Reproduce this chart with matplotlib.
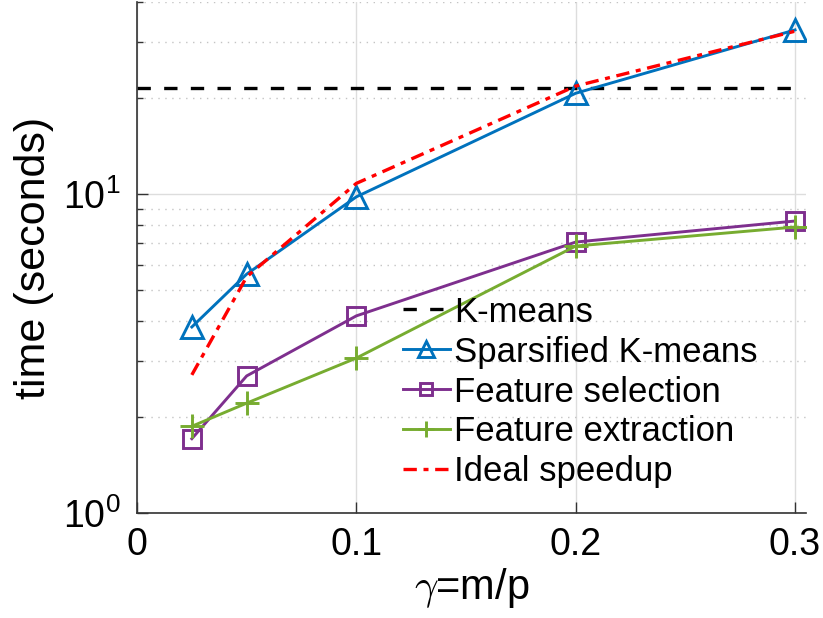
import numpy as np
import matplotlib
matplotlib.use("Agg")
import matplotlib.pyplot as plt
from matplotlib.ticker import NullFormatter, LogLocator, FixedLocator

# values
gamma = [0.025, 0.05, 0.1, 0.2, 0.3]
kmeans_x = [0, 0.3]
kmeans_t = [21.5, 21.5]
sparsified = [3.83, 5.61, 9.8, 20.7, 32.7]
selection = [1.71, 2.69, 4.15, 7.07, 8.23]
extraction = [1.87, 2.21, 3.06, 6.87, 7.88]
ideal = [2.71, 5.5, 10.8, 21.8, 32.4]
xticks = [0, 0.1, 0.2, 0.3]
xticklabels = ["0", "0.1", "0.2", "0.3"]

plt.rcParams["font.family"] = ["Liberation Sans", "DejaVu Sans"]
plt.rcParams["mathtext.fontset"] = "cm"

blue = "#0072BD"
purple = "#7E2F8E"
green = "#77AC30"

fig = plt.figure(figsize=(8.23, 6.18), dpi=100)
ax = fig.add_axes([137 / 823, 1 - 513 / 618, (806 - 137) / 823, (513 - 2) / 618])

ax.plot(kmeans_x, kmeans_t, "--", color="black", lw=2.4, dashes=(4, 4), label="K-means")
ax.plot(gamma, sparsified, "-^", color=blue, lw=2.1, ms=16, mew=2.1,
        mfc="none", label="Sparsified K-means")
ax.plot(gamma, selection, "-s", color=purple, lw=2.1, ms=13, mew=2.1,
        mfc="none", label="Feature selection")
ax.plot(gamma, extraction, "-+", color=green, lw=2.1, ms=17, mew=2.1,
        label="Feature extraction")
ax.plot(gamma, ideal, "-.", color="red", lw=2.4, dashes=(4, 2, 1.5, 2),
        label="Ideal speedup")

ax.set_yscale("log")
ax.set_ylim(1, 40)
ax.set_xlim(0, 0.305)
ax.set_xticks(xticks)
ax.set_xticklabels(xticklabels)
ax.yaxis.set_major_locator(FixedLocator([1, 10]))
ax.yaxis.set_minor_locator(LogLocator(base=10, subs=np.arange(2, 10)))
ax.yaxis.set_minor_formatter(NullFormatter())

ax.grid(True, which="major", color="#dddddd", lw=1.0, ls="-")
ax.grid(True, which="minor", axis="y", color="#c4c4c4", lw=1.0, ls=(0, (1, 4)))
ax.set_axisbelow(True)

for s in ["top", "right"]:
    ax.spines[s].set_visible(False)
for s in ["left", "bottom"]:
    ax.spines[s].set_color("#333333")
    ax.spines[s].set_linewidth(1.2)

ax.tick_params(axis="both", which="both", direction="in", colors="#333333",
               labelcolor="black", labelsize=27)
ax.tick_params(axis="both", which="major", length=8, width=1.0)
ax.tick_params(axis="y", which="minor", length=4, width=1.0)
ax.tick_params(axis="x", pad=10)
ax.tick_params(axis="y", pad=12)

ax.set_xlabel(r"$\gamma$=m/p", fontsize=30, labelpad=2)
ax.set_ylabel("time (seconds)", fontsize=31, labelpad=6)

ax.legend(loc="center left", bbox_to_anchor=(403 / 823, 1 - 392 / 618),
          bbox_transform=fig.transFigure, frameon=False, fontsize=25,
          handlelength=1.35, handletextpad=0.12, labelspacing=0.2,
          borderpad=0, borderaxespad=0, markerscale=0.7)

fig.savefig("out.png", dpi=100)
